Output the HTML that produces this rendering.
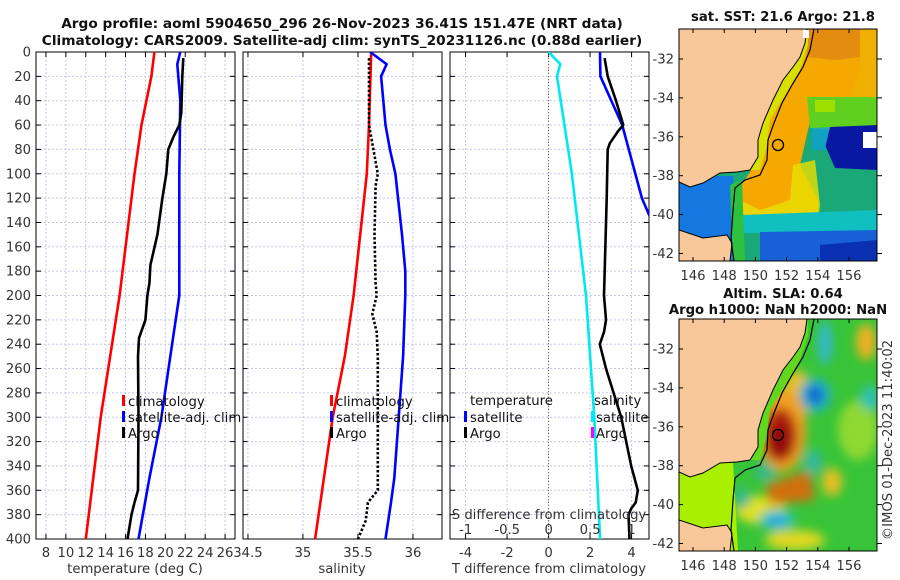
<!DOCTYPE html>
<html><head><meta charset="utf-8">
<style>
html,body{margin:0;padding:0;background:#fff;}
svg{display:block;font-family:"DejaVu Sans","Liberation Sans",sans-serif;}
.tick{font-size:13.2px;fill:#333;}
.ttl{font-size:13.7px;font-weight:bold;fill:#111;}
.mttl{font-size:13.2px;font-weight:bold;fill:#111;}
.lg{font-size:13.2px;fill:#111;}
</style></head>
<body>
<svg id="fig" width="900" height="580" viewBox="0 0 900 580">
<defs>
<clipPath id="cp1"><rect x="36" y="52" width="199" height="487"/></clipPath>
<clipPath id="cp2"><rect x="243" y="52" width="199" height="487"/></clipPath>
<clipPath id="cp3"><rect x="450" y="52" width="199" height="487"/></clipPath>
<clipPath id="cpm1"><rect x="679" y="29" width="198" height="232"/></clipPath>
<clipPath id="cpm2"><rect x="679" y="319" width="198" height="232"/></clipPath>
<filter id="blur4"><feGaussianBlur stdDeviation="5"/></filter>
</defs>
<text class="ttl" x="342" y="28" text-anchor="middle">Argo profile: aoml 5904650_296 26-Nov-2023 36.41S 151.47E (NRT data)</text>
<text class="ttl" x="342" y="45" text-anchor="middle">Climatology: CARS2009. Satellite-adj clim: synTS_20231126.nc (0.88d earlier)</text>
<g id="panels"></g>

<!-- Top map: SST -->
<text class="mttl" x="783" y="21" text-anchor="middle">sat. SST: 21.6 Argo: 21.8</text>
<g clip-path="url(#cpm1)">
<rect x="679" y="29" width="198" height="232" fill="#1aa878"/>
<polygon points="800,29 877,29 877,97 845,97 815,100 808,130 800,165 818,200 818,222 790,222 760,222 742,215 738,190 750,172 758,157 758,140 763,123 773,100 783,80 793,67 800,57 805,43" fill="#f4a800"/>
<polygon points="807,29 860,29 860,57 835,60 807,57" fill="#e48c10"/>
<polygon points="860,29 877,29 877,97 850,97 860,70" fill="#f0b000"/>
<polygon points="793,165 815,160 820,205 818,222 745,222 740,200 760,210 790,200" fill="#e8e000" opacity="0.8"/>
<polygon points="807,97 877,97 877,127 830,130 810,128" fill="#60d020"/>
<rect x="815" y="100" width="20" height="12" fill="#a0e000"/>
<polygon points="830,127 877,125 877,170 835,168 825,145" fill="#0818a0"/>
<rect x="863" y="132" width="14" height="16" fill="#ffffff"/>
<polygon points="812,128 830,127 825,150 812,150" fill="#10a0e0" opacity="0.7"/>
<polygon points="742,215 877,210 877,233 742,233" fill="#10c0c0"/>
<polygon points="760,232 877,230 877,261 760,261" fill="#1860d8"/>
<polygon points="820,245 877,240 877,261 820,261" fill="#0830b0"/>
<polygon points="679,176 733,176 738,261 679,261" fill="#1478e0"/>
<polygon points="730,185 742,180 745,261 733,261" fill="#30c040"/>
<polygon points="808,29 803,29 800,57 793,67 783,80 773,100 763,123 758,140 758,157 750,170 760,170 766,150 770,120 785,95 800,70 808,45" fill="#d8e000"/>
<polygon points="679,29 807,29 805,43 800,57 793,67 783,80 773,100 763,123 758,140 758,157 750,170 737,172 720,173 703,183 690,187 679,182" fill="#f9c89a" stroke="#000" stroke-width="1"/>
<polygon points="679,230 703,238 727,235 732,243 730,261 679,261" fill="#f9c89a" stroke="#000" stroke-width="1"/>
<rect x="803" y="30" width="6" height="8" fill="#fff"/>
<polyline points="814,29 810,50 803,67 792,85 782,103 774,123 768,140 767,160 760,175 745,180 735,188 733,210 731,240 734,261" fill="none" stroke="#000" stroke-width="1.2"/>
<circle cx="778" cy="145" r="5.5" fill="none" stroke="#000" stroke-width="1.3"/>
</g>
<rect x="679" y="29" width="198" height="232" fill="none" stroke="#000" stroke-width="1"/>
<g id="mapaxes1"></g>

<!-- Bottom map: SLA -->
<text class="mttl" x="783" y="298" text-anchor="middle">Altim. SLA: 0.64</text>
<text class="mttl" x="778" y="314" text-anchor="middle">Argo h1000: NaN h2000: NaN</text>
<g clip-path="url(#cpm2)">
<rect x="679" y="319" width="198" height="232" fill="#38c438"/>
<g filter="url(#blur4)">
<ellipse cx="858" cy="430" rx="20" ry="30" fill="#90d830"/>
<ellipse cx="760" cy="510" rx="25" ry="14" fill="#e0e020"/>
<ellipse cx="795" cy="540" rx="30" ry="10" fill="#e0d820"/>
<ellipse cx="797" cy="395" rx="14" ry="25" fill="#e8c020"/>
<ellipse cx="866" cy="342" rx="10" ry="18" fill="#f0b020"/>
<ellipse cx="832" cy="482" rx="10" ry="14" fill="#e8c020"/>
<ellipse cx="782" cy="430" rx="24" ry="42" fill="#f0a020"/>
<polygon points="765,485 810,470 815,500 770,505" fill="#d07010"/>
<ellipse cx="780" cy="435" rx="17" ry="27" fill="#b02010"/>
<ellipse cx="780" cy="440" rx="10" ry="16" fill="#901008"/>
<ellipse cx="825" cy="343" rx="7" ry="22" fill="#30b8d0"/>
<ellipse cx="815" cy="395" rx="16" ry="17" fill="#20b0c8"/>
<ellipse cx="815" cy="395" rx="8" ry="9" fill="#1060d0"/>
<ellipse cx="870" cy="398" rx="10" ry="12" fill="#30c0b0"/>
<ellipse cx="813" cy="462" rx="9" ry="12" fill="#30b8a0"/>
<ellipse cx="765" cy="472" rx="10" ry="9" fill="#30b890"/>
<ellipse cx="742" cy="498" rx="8" ry="10" fill="#30b890"/>
<ellipse cx="777" cy="520" rx="18" ry="10" fill="#30c0c0"/>
<ellipse cx="777" cy="520" rx="8" ry="5" fill="#20a8e8"/>
</g>
<polygon points="679,466 733,462 738,551 679,551" fill="#a8f000"/>
<g transform="translate(0,290)">
<polygon points="808,29 803,29 800,57 793,67 783,80 773,100 763,123 758,140 758,157 750,170 760,170 766,150 770,120 785,95 800,70 808,45" fill="#60d820"/>
<polygon points="679,29 807,29 805,43 800,57 793,67 783,80 773,100 763,123 758,140 758,157 750,170 737,172 720,173 703,183 690,187 679,182" fill="#f9c89a" stroke="#000" stroke-width="1"/>
<polygon points="679,230 703,238 727,235 732,243 730,261 679,261" fill="#f9c89a" stroke="#000" stroke-width="1"/>
<polyline points="814,29 810,50 803,67 792,85 782,103 774,123 768,140 767,160 760,175 745,180 735,188 733,210 731,240 734,261" fill="none" stroke="#000" stroke-width="1.2"/>
<circle cx="778" cy="145" r="5.5" fill="none" stroke="#000" stroke-width="1.3"/>
</g>
</g>
<rect x="679" y="319" width="198" height="232" fill="none" stroke="#000" stroke-width="1"/>
<g id="mapaxes2"></g>
<text class="tick" transform="translate(892,440) rotate(-90)" text-anchor="middle">©IMOS 01-Dec-2023 11:40:02</text>
</svg>
<script>
// ---- data ----
const depthTicks = [0,20,40,60,80,100,120,140,160,180,200,220,240,260,280,300,320,340,360,380,400];
const tTicks = [8,10,12,14,16,18,20,22,24,26];
const sTicks = [34.5,35,35.5,36];
const sTickLabels = ["34.5","35","35.5","36"];
const dTTicks = [-4,-2,0,2,4];
const dSTicks = [-1,-0.5,0,0.5,1];
const dSTickLabels = ["-1","-0.5","0","0.5","1"];

const tClimDepth = [0,20,40,60,100,200,300,400];
const tClim = [18.9,18.6,18.1,17.6,16.9,15.4,13.5,12.0];
const tSatDepth = [0,10,20,40,100,200,250,300,350,400];
const tSat = [21.5,21.2,21.3,21.5,21.4,21.4,20.5,19.6,18.4,17.3];
const tArgoDepth = [5,20,50,60,70,80,100,120,150,175,190,200,220,235,250,300,360,370,380,400];
const tArgo = [21.8,21.7,21.6,21.4,20.8,20.3,20.1,19.7,19.2,18.5,18.4,18.2,18.0,17.35,17.25,17.3,17.25,16.9,16.6,16.2];

const sClimDepth = [0,60,100,200,250,300,350,400];
const sClim = [35.62,35.60,35.58,35.46,35.38,35.27,35.19,35.11];
const sSatDepth = [0,10,20,60,80,100,150,180,200,250,300,350,370,400];
const sSat = [35.61,35.76,35.71,35.75,35.79,35.84,35.90,35.93,35.93,35.91,35.87,35.83,35.80,35.75];
const sArgoDepth = [5,60,70,100,110,150,190,200,215,230,250,300,360,370,385,400];
const sArgo = [35.60,35.60,35.62,35.68,35.66,35.65,35.66,35.67,35.63,35.67,35.68,35.68,35.68,35.59,35.57,35.50];

const dTSatDepth = [0,20,60,120,140];
const dTSat = [2.48,2.5,3.55,4.5,5.0];
const dTArgoDepth = [5,20,40,60,65,75,80,120,200,220,230,240,260,300,340,360,370,375,380,400];
const dTArgo = [2.7,2.85,3.25,3.6,3.35,2.95,2.85,2.8,2.67,2.77,2.67,2.47,2.77,3.5,3.98,4.3,4.2,3.98,3.85,3.9];
const dSSatDepth = [0,10,20,100,200,300,400];
const dSSat = [0,0.14,0.1,0.28,0.45,0.55,0.62];

const lonTicks = [146,148,150,152,154,156];
const latTicks = [-32,-34,-36,-38,-40,-42];

// ---- scales ----
const NS='http://www.w3.org/2000/svg';
const Y0=52, Y1=539;
const yD = d => Y0 + d*(Y1-Y0)/400;
function lin(d0,d1,r0,r1){return v=>r0+(v-d0)*(r1-r0)/(d1-d0);}
const xT = lin(7,27,36,235);
const xS = lin(34.455,36.264,243,442);
const xDT = lin(-4.75,4.84,450,649);
const xDS = lin(-1.19,1.21,450,649);

const root=document.getElementById('panels');
function mk(tag,attrs,parent){const e=document.createElementNS(NS,tag);for(const k in attrs)e.setAttribute(k,attrs[k]);(parent||root).appendChild(e);return e;}

function panel(x0,xTicksArr,xs,labels,name,showY){
  const g=mk('g',{});
  
  
  for(const d of depthTicks){
    if(d>0&&d<400) mk('line',{x1:x0,x2:x0+199,y1:yD(d),y2:yD(d),stroke:'#c4c8e8','stroke-width':1,'stroke-dasharray':'2 2'},g);
    mk('line',{x1:x0,x2:x0+5,y1:yD(d),y2:yD(d),stroke:'#000'},g);
    mk('line',{x1:x0+194,x2:x0+199,y1:yD(d),y2:yD(d),stroke:'#000'},g);
    if(showY){const t=mk('text',{x:x0-5,y:yD(d)+4.5,'text-anchor':'end',class:'tick'},g);t.textContent=d;
      
      }
  }
  xTicksArr.forEach((v,i)=>{
    const x=xs(v);
    mk('line',{x1:x,x2:x,y1:Y0,y2:Y1,stroke:'#c4c8e8','stroke-width':1,'stroke-dasharray':'2 2'},g);
    mk('line',{x1:x,x2:x,y1:Y1,y2:Y1-5,stroke:'#000'},g);
    mk('line',{x1:x,x2:x,y1:Y0,y2:Y0+5,stroke:'#000'},g);
    const t=mk('text',{x:x,y:557,'text-anchor':'middle',class:'tick'},g);t.textContent=labels?labels[i]:v;
    
    
  });
  mk('rect',{x:x0,y:Y0,width:199,height:Y1-Y0,fill:'none',stroke:'#000','stroke-width':1},g);
  return g;
}
function line(xs,depths,vals,color,clip,name,dash){
  const pts=vals.map((v,i)=>xs(v).toFixed(1)+','+yD(depths[i]).toFixed(1)).join(' ');
  const p=mk('polyline',{points:pts,fill:'none',stroke:color,'stroke-width':2.6,'clip-path':'url(#'+clip+')','stroke-linejoin':'round'});
  if(dash) p.setAttribute('stroke-dasharray',dash);
  
  
}
function txt(x,y,s,cls,name,anchor){const t=mk('text',{x:x,y:y,class:cls,'text-anchor':anchor||'start'});t.textContent=s;
  
  return t;}
function mark(x,y,c){mk('rect',{x:x,y:y-11,width:3,height:11,fill:c});}

// panel 1
panel(36,tTicks,xT,null,'temperature',true);
line(xT,tClimDepth,tClim,'#ff0000','cp1','temp-climatology-line');
line(xT,tSatDepth,tSat,'#0000ff','cp1','temp-satellite-line');
line(xT,tArgoDepth,tArgo,'#000000','cp1','temp-argo-line');
txt(135,573,'temperature (deg C)','tick','x-axis-title-temperature','middle');
mark(122,406,'#ff0000');txt(128,406,'climatology','lg','legend-climatology');
mark(122,422,'#0000ff');txt(128,422,'satellite-adj. clim','lg','legend-satellite');
mark(122,438,'#000');txt(128,438,'Argo','lg','legend-argo');

// panel 2
panel(243,sTicks,xS,sTickLabels,'salinity',false);
line(xS,sClimDepth,sClim,'#ff0000','cp2','sal-climatology-line');
line(xS,sSatDepth,sSat,'#0000ff','cp2','sal-satellite-line');
line(xS,sArgoDepth,sArgo,'#000000','cp2','sal-argo-line','2.5 2');
txt(342,573,'salinity','tick','x-axis-title-salinity','middle');
mark(330,406,'#ff0000');txt(336,406,'climatology','lg','legend-climatology-2');
mark(330,422,'#0000ff');txt(336,422,'satellite-adj. clim','lg','legend-satellite-2');
mark(330,438,'#000');txt(336,438,'Argo','lg','legend-argo-2');

// panel 3
panel(450,dTTicks,xDT,null,'difference',false);
mk('line',{x1:xDT(0),x2:xDT(0),y1:Y0,y2:Y1,stroke:'#806030','stroke-width':1,'stroke-dasharray':'1 2'});
line(xDS,dSSatDepth,dSSat,'#00e8f0','cp3','sal-diff-satellite-line');
line(xDT,dTSatDepth,dTSat,'#0000ff','cp3','temp-diff-satellite-line');
line(xDT,dTArgoDepth,dTArgo,'#000000','cp3','temp-diff-argo-line');
dSTicks.forEach((v,i)=>{const t=txt(xDS(v),534,dSTickLabels[i],'tick','s-diff-tick-label','middle');});
txt(549,519,'S difference from climatology','tick','s-diff-axis-title','middle');
txt(549,573,'T difference from climatology','tick','x-axis-title-t-diff','middle');
txt(470,405,'temperature','lg','legend-temperature-header');
mark(464,422,'#0000ff');txt(470,422,'satellite','lg','legend-t-satellite');
mark(464,438,'#000');txt(470,438,'Argo','lg','legend-t-argo');
txt(594,405,'salinity','lg','legend-salinity-header');
mark(591,422,'#00e8f0');txt(596,422,'satellite','lg','legend-s-satellite');
mark(591,438,'#ff00ff');txt(596,438,'Argo','lg','legend-s-argo');

// map axes
const xLon = lin(146,156,693,849);
function mapAxes(id,top){
  const g=document.getElementById(id);
  const yLat = v => top+30+(-32-v)*19.45;
  lonTicks.forEach(v=>{
    mk('line',{x1:xLon(v),x2:xLon(v),y1:top,y2:top+4,stroke:'#000'},g);
    mk('line',{x1:xLon(v),x2:xLon(v),y1:top+232,y2:top+228,stroke:'#000'},g);
    const t=mk('text',{x:xLon(v),y:top+251,'text-anchor':'middle',class:'tick'},g);t.textContent=v;
    
    
  });
  latTicks.forEach(v=>{
    mk('line',{x1:679,x2:683,y1:yLat(v),y2:yLat(v),stroke:'#000'},g);
    mk('line',{x1:877,x2:882,y1:yLat(v),y2:yLat(v),stroke:'#000'},g);
    const t=mk('text',{x:674,y:yLat(v)+4.5,'text-anchor':'end',class:'tick'},g);t.textContent=v;
    
    
  });
}
mapAxes('mapaxes1',29);
mapAxes('mapaxes2',319);
</script>
</body></html>
